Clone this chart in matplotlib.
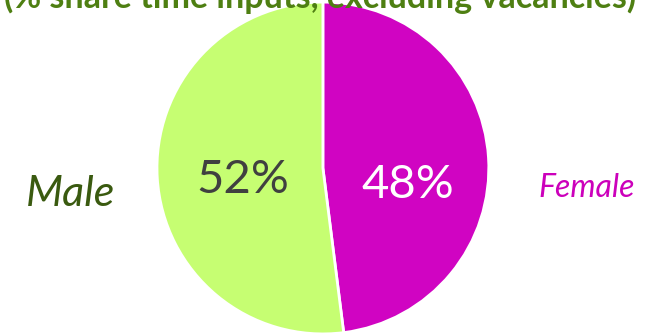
import matplotlib.pyplot as plt

labels = ['Female', 'Male']
shares = [48, 52]
colors = ['#D004C2', '#C6FE72']
pct_colors = ['white', '#404040']
label_colors = ['#CC00BB', '#3A5A10']

plt.rcParams['font.family'] = ['Lato', 'DejaVu Sans']

fig = plt.figure(figsize=(6.61, 3.35), dpi=100)
ax = fig.add_axes([0.2375, 0.003, 0.502, 0.991])

wedges, texts, autotexts = ax.pie(
    shares, colors=colors, startangle=90, counterclock=False,
    autopct='%d%%', radius=1,
    wedgeprops=dict(edgecolor='white', linewidth=2),
    textprops=dict(fontsize=34))
# percentage labels sit a bit off the wedge midpoints in the original
for t, c, pos in zip(autotexts, pct_colors, [(0.51, -0.105), (-0.48, -0.075)]):
    t.set_color(c)
    t.set_position(pos)
ax.set_xlim(-1, 1)
ax.set_ylim(-1, 1)
ax.set_aspect('equal')

fig.text(0.107, 0.42, 'Male', fontsize=31, style='italic', color=label_colors[1],
         ha='center', va='center')
fig.text(0.888, 0.44, 'Female', fontsize=23, style='italic', color=label_colors[0],
         ha='center', va='center')

fig.text(0.484, 0.975, '(% share time inputs, excluding vacancies)', fontsize=24.5,
         fontweight='bold', color='#4E7F12', ha='center', va='baseline')

fig.savefig('out.png', dpi=100)
